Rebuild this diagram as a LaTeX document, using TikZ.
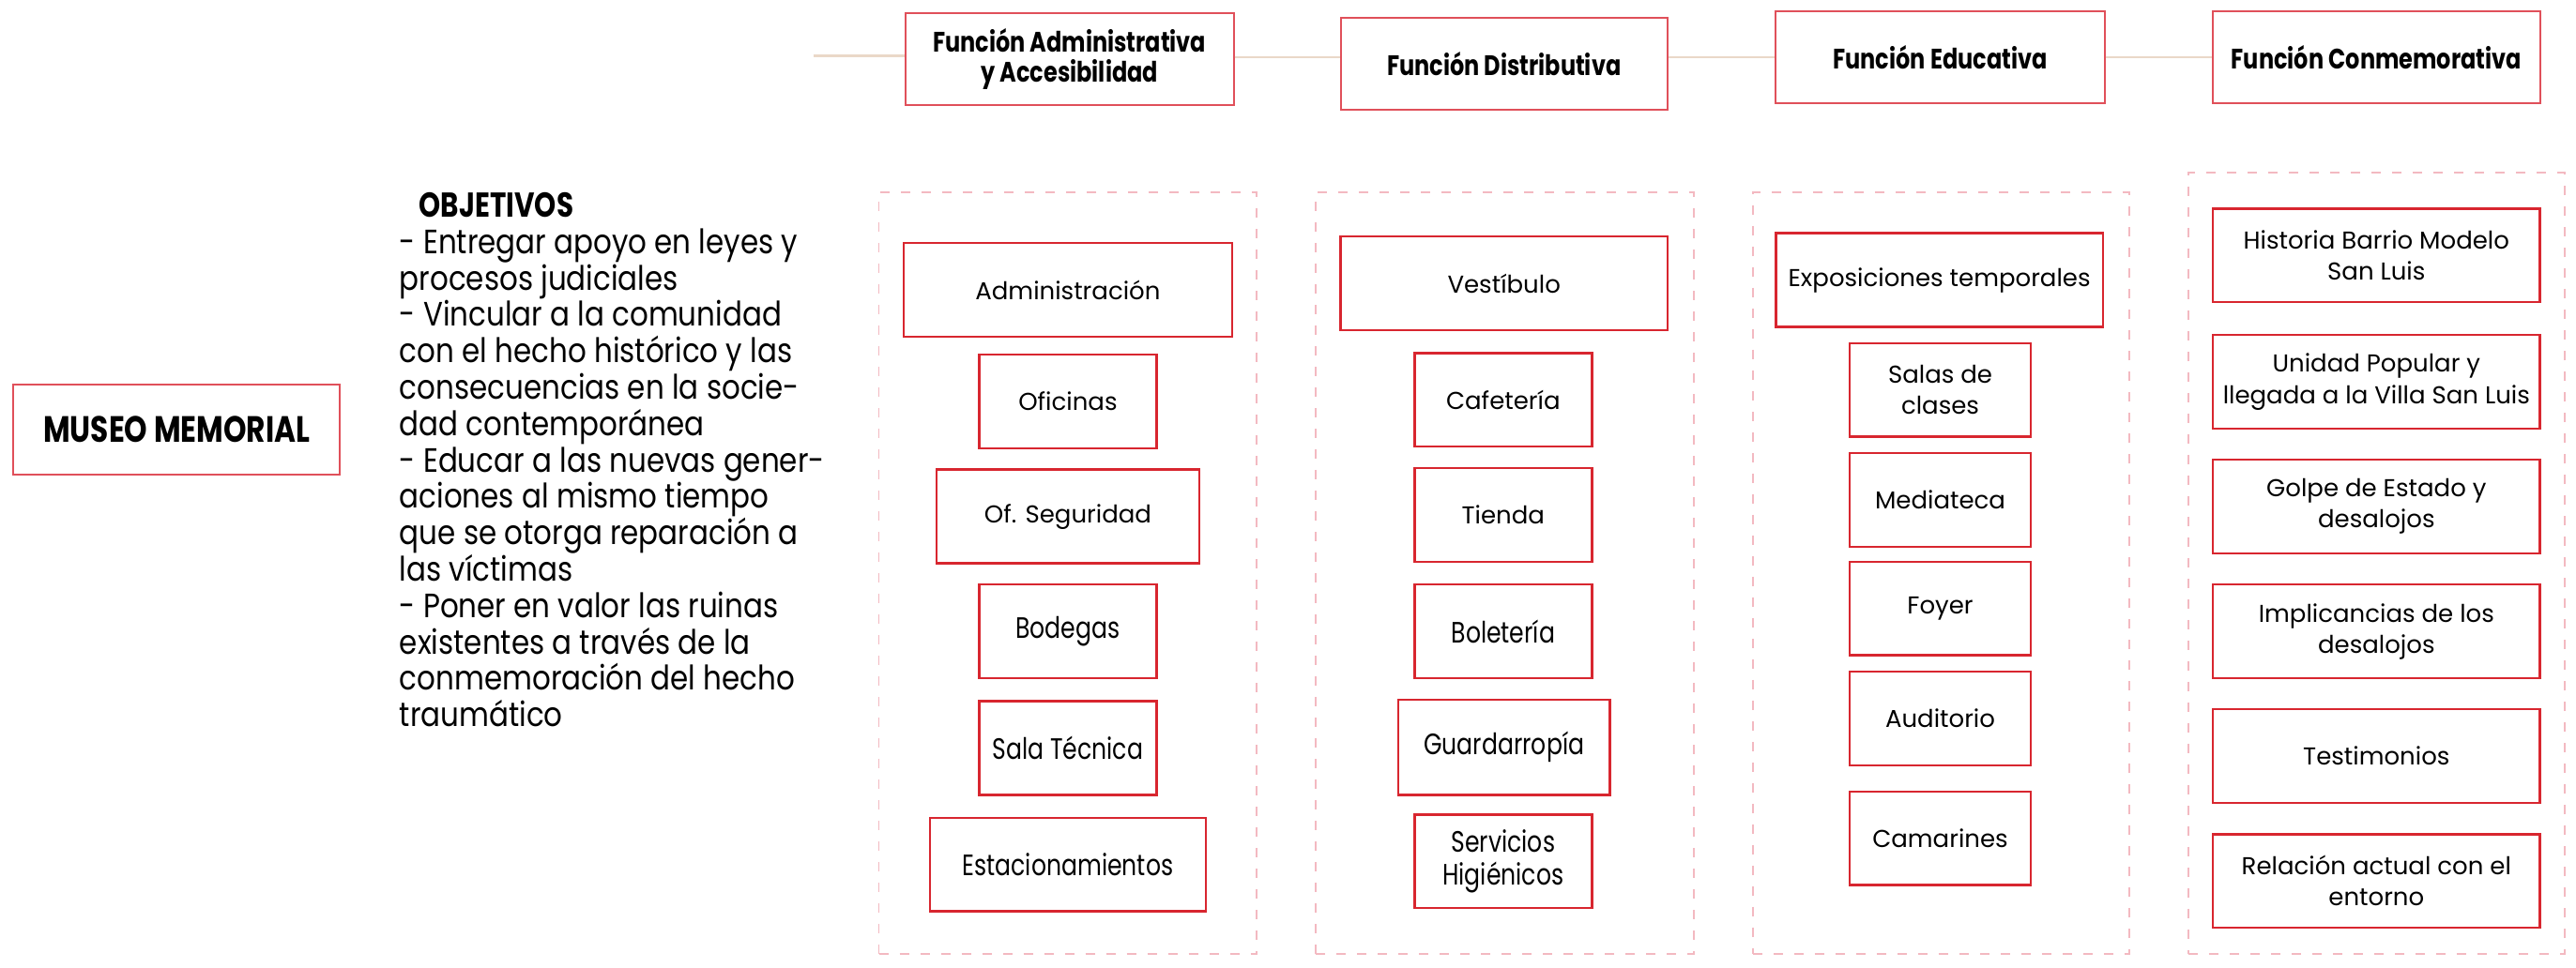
\documentclass[tikz,border=0pt]{standalone}
\usepackage{fontspec}
\setmainfont{Poppins}
\newfontfamily\nf[FakeStretch=0.8]{Poppins}
\newfontfamily\of[FakeStretch=0.86]{Poppins}
\definecolor{boxred}{HTML}{D8262F}
\definecolor{headred}{HTML}{E0505A}
\definecolor{dashpink}{HTML}{F3B9C1}
\definecolor{linebeige}{HTML}{EAD8C8}
\newcommand\bx[7][]{\node[bx,#1,minimum width={(#5-#4)*0.8753pt},minimum height={(#7-#6)*0.8753pt}] (#2) at ({(#4+#5)/2},{(#6+#7)/2}) {#3};}
\tikzset{
  bx/.style={draw=boxred,line width=1.2pt,rectangle,inner sep=0pt,align=center,text=black,font=\fontsize{13}{16.6}\selectfont},
  nar/.style={font=\nf\fontsize{15.7}{17.5}\selectfont},
  headbox/.style={draw=headred,line width=1pt,font=\nf\bfseries\fontsize{15}{16}\selectfont},
  dashbox/.style={draw=dashpink,line width=0.8pt,dash pattern=on 5pt off 6pt},
  conn/.style={draw=linebeige,line width=1.2pt}
}
\begin{document}
\begin{tikzpicture}[x=0.8753pt,y=-0.8753pt]
\useasboundingbox[fill=white] (0,0) rectangle (1568,589);
% dashed column frames
\bx[dashbox]{c1}{}{535}{765}{117}{581}
\bx[dashbox]{c2}{}{801}{1031}{117}{581}
\bx[dashbox]{c3}{}{1067}{1296}{117}{581}
\bx[dashbox]{c4}{}{1332}{1561}{105}{581}
% header boxes
\bx[headbox]{h1}{Función Administrativa\\y Accesibilidad}{551}{751}{8}{64}
\bx[headbox]{h2}{Función Distributiva}{816}{1015}{11}{67}
\bx[headbox]{h3}{Función Educativa}{1081}{1281}{7}{63}
\bx[headbox]{h4}{Función Conmemorativa}{1347}{1546}{7}{63}
\coordinate (st) at (495,34);
\draw[conn] (st) -- (st -| h1.west);
\draw[conn] (h1.east |- 0,35) -- (h2.west |- 0,35);
\draw[conn] (h2.east |- 0,35) -- (h3.west |- 0,35);
\draw[conn] (h3.east |- 0,35) -- (h4.west |- 0,35);
% main
\bx[headbox,font=\nf\bfseries\fontsize{19.5}{21}\selectfont]{mm}{MUSEO MEMORIAL}{8}{207}{234}{289}
\node[anchor=base west,inner sep=0pt,font=\nf\bfseries\fontsize{18.4}{20}\selectfont] (obt) at (255,132) {OBJETIVOS};
\node[anchor=north west,inner sep=0pt,align=left,font=\of\fontsize{18}{19.4}\selectfont] (obj) at (243,139) {- Entregar apoyo en leyes y\\procesos judiciales\\- Vincular a la comunidad\\con el hecho histórico y las\\consecuencias en la socie-\\dad contemporánea\\- Educar a las nuevas gener-\\aciones al mismo tiempo\\que se otorga reparación a\\las víctimas\\- Poner en valor las ruinas\\existentes a través de la\\conmemoración del hecho\\traumático};
% column 1
\bx{adm}{Administración}{550}{750}{148}{205}
\bx{ofi}{Oficinas}{596}{704}{216}{273}
\bx{seg}{Of. Seguridad}{570}{730}{286}{343}
\bx[nar]{bod}{Bodegas}{596}{704}{356}{413}
\bx[nar]{sal}{Sala Técnica}{596}{704}{427}{484}
\bx[nar]{est}{Estacionamientos}{566}{734}{498}{555}
% column 2
\bx{ves}{Vestíbulo}{816}{1015}{144}{201}
\bx{caf}{Cafetería}{861}{969}{215}{272}
\bx{tie}{Tienda}{861}{969}{285}{342}
\bx[nar]{bol}{Boletería}{861}{969}{356}{413}
\bx[nar]{gua}{Guardarropía}{851}{980}{426}{484}
\bx[nar]{ser}{Servicios\\Higiénicos}{861}{969}{496}{553}
% column 3
\bx{exp}{Exposiciones temporales}{1081}{1280}{142}{199}
\bx{sdc}{Salas de\\clases}{1126}{1236}{209}{266}
\bx{med}{Mediateca}{1126}{1236}{276}{333}
\bx{foy}{Foyer}{1126}{1236}{342}{399}
\bx{aud}{Auditorio}{1126}{1236}{409}{466}
\bx{cam}{Camarines}{1126}{1236}{482}{539}
% column 4
\bx{his}{Historia Barrio Modelo\\San Luis}{1347}{1546}{127}{184}
\bx{uni}{Unidad Popular y\\llegada a la Villa San Luis}{1347}{1546}{204}{261}
\bx{gol}{Golpe de Estado y\\desalojos}{1347}{1546}{280}{337}
\bx{imp}{Implicancias de los\\desalojos}{1347}{1546}{356}{413}
\bx{tes}{Testimonios}{1347}{1546}{432}{489}
\bx{rel}{Relación actual con el\\entorno}{1347}{1546}{508}{565}
\end{tikzpicture}
\end{document}
